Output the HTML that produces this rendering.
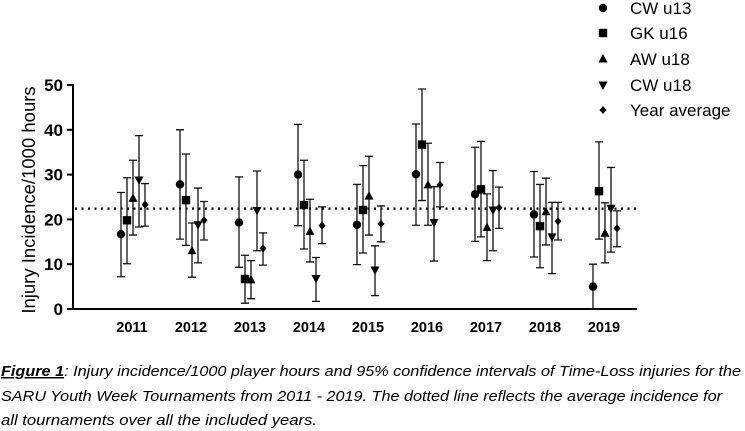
<!DOCTYPE html>
<html><head><meta charset="utf-8"><style>
html,body{margin:0;padding:0;background:#fff;}
svg{display:block;font-family:"Liberation Sans",Arial,sans-serif;}
</style></head><body>
<svg id="chart" width="745" height="431" viewBox="0 0 745 431"></svg>
<script>
const years = ['2011','2012','2013','2014','2015','2016','2017','2018','2019'];
const seriesNames = ['CW u13','GK u16','AW u18','CW u18','Year average'];
const cwU13 = [16.7,27.8,19.3,30.0,18.8,30.1,25.6,21.1,5.0];
const cwU13Lo = [7.2,15.6,9.3,18.6,9.9,18.7,15.1,11.6,0];
const cwU13Hi = [26.0,40.0,29.5,41.2,27.8,41.3,36.1,30.7,10.0];
const gkU16 = [19.8,24.3,6.7,23.2,22.1,36.7,26.7,18.5,26.3];
const gkU16Lo = [10.1,14.2,1.3,13.4,12.5,24.2,16.1,9.2,15.6];
const gkU16Hi = [29.3,34.6,12.0,33.2,32.0,49.1,37.4,27.8,37.3];
const awU18 = [24.7,13.0,6.5,17.3,25.2,27.7,18.2,21.7,16.9];
const awU18Lo = [16.5,7.1,2.3,10.5,16.5,18.7,10.8,14.3,10.3];
const awU18Hi = [33.2,19.2,10.8,24.5,34.1,37.0,25.7,29.2,23.7];
const cwU18 = [28.8,18.8,22.0,6.8,8.7,19.3,22.1,16.1,22.5];
const cwU18Lo = [18.3,10.3,13.0,1.7,3.0,10.7,13.0,7.9,12.7];
const cwU18Hi = [38.7,27.0,30.8,11.5,14.1,27.3,30.9,23.8,31.6];
const yearAvg = [23.3,19.8,13.5,18.6,19.0,27.7,22.6,19.6,18.0];
const yearAvgLo = [18.5,15.4,9.8,14.6,15.0,22.8,18.0,15.4,13.9];
const yearAvgHi = [28.0,24.0,17.0,22.8,23.0,32.7,27.2,23.8,21.9];
const overallAvg = 22.4;
const yTicks = [0,10,20,30,40,50];

const NS='http://www.w3.org/2000/svg';
const svg=document.getElementById('chart');
function mk(tag,attrs,parent){const e=document.createElementNS(NS,tag);for(const k in attrs)e.setAttribute(k,attrs[k]);(parent||svg).appendChild(e);return e;}
const y0=309, pxPer=4.48;
function yS(v){return y0-v*pxPer;}
function xS(i){return 133+i*59;}
const offsets=[-12,-6,0,6,12];

function marker(shape,cx,cy,g){
  if(shape===0) return mk('circle',{cx:cx,cy:cy,r:4.2,fill:'#000'},g);
  if(shape===1) return mk('rect',{x:cx-4.2,y:cy-4.2,width:8.4,height:8.4,fill:'#000'},g);
  if(shape===2) return mk('polygon',{points:`${cx},${cy-5} ${cx-4.5},${cy+3.5} ${cx+4.5},${cy+3.5}`,fill:'#000'},g);
  if(shape===3) return mk('polygon',{points:`${cx},${cy+5} ${cx-4.5},${cy-3.5} ${cx+4.5},${cy-3.5}`,fill:'#000'},g);
  return mk('polygon',{points:`${cx},${cy-4} ${cx-3.5},${cy} ${cx},${cy+4} ${cx+3.5},${cy}`,fill:'#000'},g);
}

const yAxis=mk('line',{x1:73,y1:84,x2:73,y2:310,stroke:'#000','stroke-width':2});


const xAxis=mk('line',{x1:72,y1:309,x2:637,y2:309,stroke:'#000','stroke-width':2});


yTicks.forEach(t=>{
  const tk=mk('line',{x1:67,y1:yS(t),x2:73,y2:yS(t),stroke:'#000','stroke-width':2});
  
  
  const tl=mk('text',{x:63,y:yS(t)+6,'text-anchor':'end','font-size':17,'font-weight':'bold'});
  tl.textContent=t;
  
  
});
years.forEach((yr,i)=>{
  const t=mk('text',{x:xS(i)-1,y:332,'text-anchor':'middle','font-size':14.5,'font-weight':'bold'});
  t.textContent=yr;
  
  
});
const yt=mk('text',{transform:'translate(35,200) rotate(-90)','text-anchor':'middle','font-size':18.5});
yt.textContent='Injury Incidence/1000 hours';



const al=mk('line',{x1:75,y1:yS(overallAvg),x2:636,y2:yS(overallAvg),stroke:'#000','stroke-width':2.2,'stroke-dasharray':'2 4.5'});



const vals=[cwU13,gkU16,awU18,cwU18,yearAvg];
const los=[cwU13Lo,gkU16Lo,awU18Lo,cwU18Lo,yearAvgLo];
const his=[cwU13Hi,gkU16Hi,awU18Hi,cwU18Hi,yearAvgHi];
vals.forEach((arr,s)=>{
  const g=mk('g',{});
  
  
  arr.forEach((v,i)=>{
    const cx=xS(i)+offsets[s];
    const lo=yS(los[s][i]), hi=yS(his[s][i]);
    const eb=mk('path',{d:`M${cx},${lo}V${hi}M${cx-4},${hi}H${cx+4}M${cx-4},${lo}H${cx+4}`,stroke:'#111','stroke-width':1.3,fill:'none'},g);
    
    
    const m=marker(s,cx,yS(v),g);
    
    
  });
});

const legY=[8,33,59,85,110];
seriesNames.forEach((n,s)=>{
  const g=mk('g',{});
  
  
  marker(s,603,legY[s],g);
  const t=mk('text',{x:630,y:legY[s]+6,'font-size':17},g);
  t.textContent=n;
});

const capLines=[
  ['Figure 1',': Injury incidence/1000 player hours and 95% confidence intervals of Time-Loss injuries for the',376,740],
  ['','SARU Youth Week Tournaments from 2011 - 2019. The dotted line reflects the average incidence for',401,721],
  ['','all tournaments over all the included years.',425,316]
];
capLines.forEach(c=>{
  const t=mk('text',{x:1,y:c[2],'font-size':15,'font-style':'italic',textLength:c[3],lengthAdjust:'spacingAndGlyphs'});
  
  
  if(c[0]){const a=mk('tspan',{'text-decoration':'underline','font-weight':'bold'},t);a.textContent=c[0];}
  const b=mk('tspan',{},t);b.textContent=c[1];
});
</script>
</body></html>
